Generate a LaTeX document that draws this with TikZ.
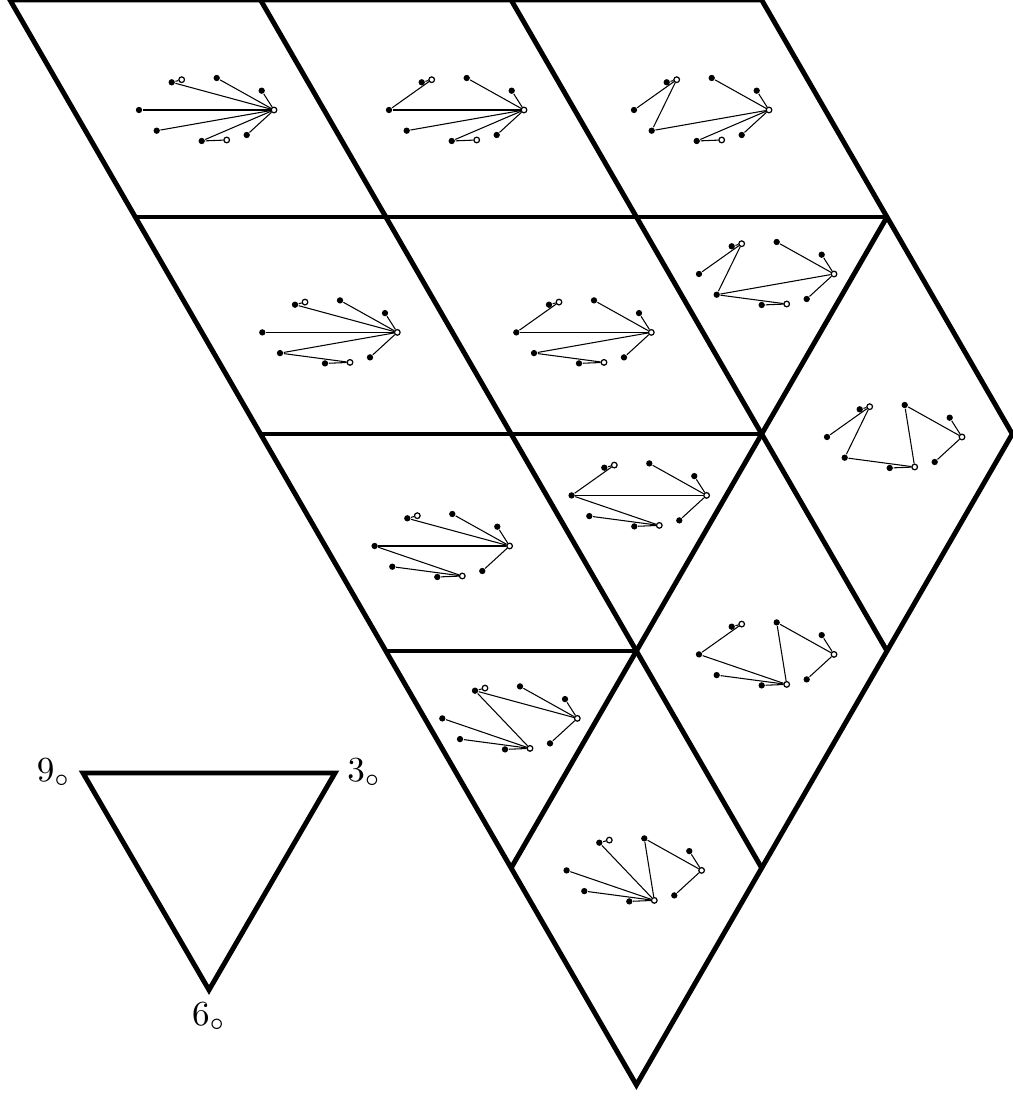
\documentclass[tikz,border=0pt]{standalone}
\usepackage{amsmath, amssymb}
\usepackage{tikz}
\usetikzlibrary{calc}

% one small graph: #1 name prefix, #2 centre, #3 list of edges
\newcommand{\clockgraph}[3]{%
  \begin{scope}[shift={#2}]
    \node[vtx]  (#1a) at (-0.348,0.277) {};
    \node[ovtx] (#1b) at (-0.248,0.303) {};
    \node[vtx]  (#1c) at (0.102,0.320) {};
    \node[vtx]  (#1d) at (0.552,0.193) {};
    \node[ovtx] (#1e) at (0.675,0) {};
    \node[vtx]  (#1f) at (0.402,-0.250) {};
    \node[ovtx] (#1g) at (0.202,-0.300) {};
    \node[vtx]  (#1h) at (-0.048,-0.310) {};
    \node[vtx]  (#1i) at (-0.498,-0.207) {};
    \node[vtx]  (#1j) at (-0.675,0) {};
    \foreach \u/\w in {#3} \draw[gline] (#1\u) -- (#1\w);
  \end{scope}}

\begin{document}
\begin{tikzpicture}[
  frame/.style={line width=1.4pt},
  gline/.style={line width=0.3pt},
  vtx/.style={circle,fill=black,inner sep=0pt,minimum size=1.8pt},
  ovtx/.style={circle,draw=black,fill=white,line width=0.35pt,inner sep=0pt,minimum size=1.6pt}]
  \useasboundingbox (0,0) rectangle (10.12,10.99);

  % the lattice, in lattice units
  \begin{scope}[shift={(0.10,10.99)}, x={(2.5057cm,0cm)}, y={(1.2528cm,-2.17cm)}]
    \draw[frame] (0,0) -- (3,0) -- (3,1) -- (3,2) -- (2,3) -- (1,4) -- (0,5) -- cycle;
    \draw[frame] (0,1) -- (3,1);
    \draw[frame] (0,2) -- (2,2);
    \draw[frame] (0,3) -- (1,3);
    \draw[frame] (1,0) -- (1,4);
    \draw[frame] (2,0) -- (2,3);
    \draw[frame] (3,1) -- (0,4);
  \end{scope}

  % the graphs
  \clockgraph{g1}{(2.065,9.89)}{a/b,h/g,e/a,e/c,e/d,e/f,e/h,e/i,e/j}
  \clockgraph{g2}{(4.565,9.89)}{a/b,b/j,j/e,c/e,d/e,i/e,h/e,f/e,h/g}
  \clockgraph{g3}{(7.015,9.89)}{a/b,b/j,b/i,i/e,c/e,d/e,f/e,h/e,h/g}
  \clockgraph{g4}{(3.298,7.666)}{a/b,a/e,c/e,d/e,j/e,i/e,i/g,h/g,f/e}
  \clockgraph{g5}{(5.838,7.666)}{a/b,b/j,j/e,c/e,d/e,i/e,i/g,h/g,f/e}
  \clockgraph{g6}{(7.665,8.25)}{a/b,b/j,b/i,i/e,i/g,h/g,c/e,d/e,f/e}
  \clockgraph{g7}{(8.945,6.62)}{a/b,b/j,b/i,i/g,h/g,c/g,c/e,d/e,f/e}
  \clockgraph{g8}{(4.421,5.53)}{a/b,a/e,c/e,d/e,j/e,j/g,i/g,h/g,f/e}
  \clockgraph{g9}{(6.391,6.036)}{a/b,b/j,j/e,j/g,i/g,h/g,c/e,d/e,f/e}
  \clockgraph{g10}{(7.665,4.446)}{a/b,b/j,j/g,i/g,h/g,c/g,c/e,d/e,f/e}
  \clockgraph{g11}{(5.098,3.806)}{a/b,a/e,a/g,j/g,i/g,h/g,c/e,d/e,f/e}
  \clockgraph{g12}{(6.341,2.286)}{a/b,a/g,j/g,i/g,h/g,c/g,c/e,d/e,f/e}

  % the key triangle
  \coordinate (t9) at (0.83,3.26);
  \coordinate (t3) at (3.35,3.26);
  \coordinate (t6) at (2.09,1.09);
  \draw[frame] (t9) -- (t3) -- (t6) -- cycle;
  \node[left] (l9) at (t9) {$9_\circ$};
  \node[right] (l3) at (t3) {$3_\circ$};
  \node[below] (l6) at (t6) {$6_\circ$};
\end{tikzpicture}
\end{document}
